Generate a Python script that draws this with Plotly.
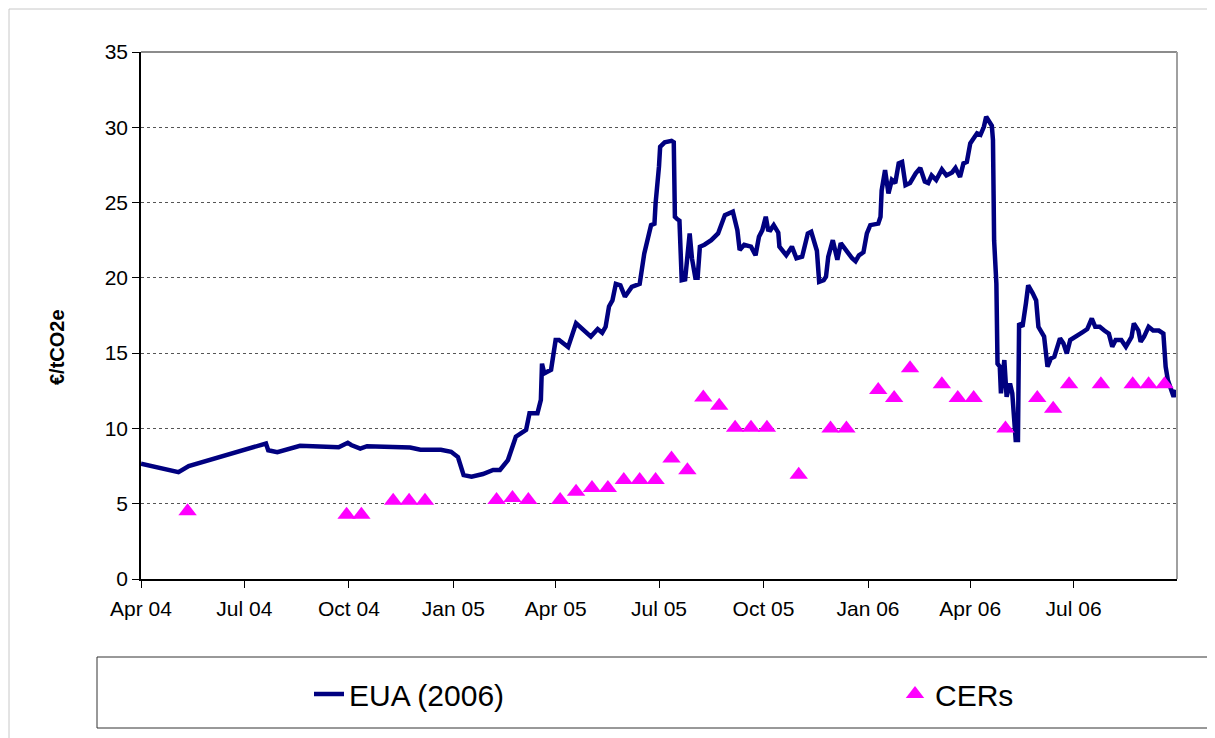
import plotly.graph_objects as go

# ---------------- data ----------------
eua_dates = [
    "2004-04-01", "2004-05-04", "2004-05-13", "2004-07-18", "2004-07-20", "2004-07-22",
    "2004-07-30", "2004-08-19", "2004-09-06", "2004-09-22", "2004-09-30", "2004-10-03",
    "2004-10-11", "2004-10-17", "2004-11-24", "2004-12-03", "2004-12-21", "2004-12-30",
    "2005-01-05", "2005-01-10", "2005-01-17", "2005-01-27", "2005-02-05", "2005-02-11",
    "2005-02-18", "2005-02-25", "2005-03-06", "2005-03-09", "2005-03-16", "2005-03-19",
    "2005-03-20", "2005-03-22", "2005-03-28", "2005-04-01", "2005-04-04", "2005-04-12",
    "2005-04-19", "2005-05-02", "2005-05-08", "2005-05-12", "2005-05-15", "2005-05-18",
    "2005-05-21", "2005-05-24", "2005-05-28", "2005-06-01", "2005-06-07", "2005-06-14",
    "2005-06-18", "2005-06-21", "2005-06-24", "2005-06-27", "2005-06-28", "2005-07-01",
    "2005-07-02", "2005-07-06", "2005-07-12", "2005-07-14", "2005-07-15", "2005-07-17",
    "2005-07-19", "2005-07-21", "2005-07-24", "2005-07-28", "2005-07-30", "2005-08-02",
    "2005-08-04", "2005-08-06", "2005-08-10", "2005-08-16", "2005-08-22", "2005-08-28",
    "2005-09-04", "2005-09-08", "2005-09-10", "2005-09-14", "2005-09-20", "2005-09-24",
    "2005-09-27", "2005-09-30", "2005-10-03", "2005-10-05", "2005-10-07", "2005-10-10",
    "2005-10-14", "2005-10-15", "2005-10-21", "2005-10-26", "2005-10-30", "2005-11-04",
    "2005-11-09", "2005-11-12", "2005-11-15", "2005-11-17", "2005-11-19", "2005-11-23",
    "2005-11-25", "2005-11-27", "2005-12-01", "2005-12-05", "2005-12-08", "2005-12-12",
    "2005-12-18", "2005-12-21", "2005-12-24", "2005-12-28", "2005-12-31", "2006-01-03",
    "2006-01-10", "2006-01-12", "2006-01-13", "2006-01-16", "2006-01-19", "2006-01-22",
    "2006-01-25", "2006-01-28", "2006-01-31", "2006-02-03", "2006-02-07", "2006-02-12",
    "2006-02-16", "2006-02-20", "2006-02-23", "2006-02-26", "2006-03-02", "2006-03-07",
    "2006-03-11", "2006-03-16", "2006-03-19", "2006-03-23", "2006-03-26", "2006-03-29",
    "2006-04-01", "2006-04-03", "2006-04-07", "2006-04-10", "2006-04-13", "2006-04-15",
    "2006-04-17", "2006-04-20", "2006-04-21", "2006-04-22", "2006-04-24", "2006-04-25",
    "2006-04-27", "2006-04-28", "2006-05-01", "2006-05-03", "2006-05-06", "2006-05-08",
    "2006-05-11", "2006-05-13", "2006-05-14", "2006-05-17", "2006-05-20", "2006-05-22",
    "2006-05-26", "2006-05-29", "2006-05-31", "2006-06-03", "2006-06-05", "2006-06-08",
    "2006-06-11", "2006-06-14", "2006-06-19", "2006-06-22", "2006-06-25", "2006-06-28",
    "2006-07-03", "2006-07-09", "2006-07-13", "2006-07-17", "2006-07-20", "2006-07-24",
    "2006-07-28", "2006-08-01", "2006-08-04", "2006-08-07", "2006-08-12", "2006-08-16",
    "2006-08-21", "2006-08-23", "2006-08-27", "2006-08-29", "2006-09-01", "2006-09-05",
    "2006-09-09", "2006-09-14", "2006-09-18", "2006-09-20", "2006-09-22", "2006-09-25",
    "2006-09-27", "2006-09-29",
]
eua_values = [
    7.65, 7.1, 7.5, 8.95, 9.0, 8.55,
    8.42, 8.85, 8.77, 8.75, 9.05, 8.9,
    8.66, 8.82, 8.73, 8.58, 8.58, 8.45,
    8.1, 6.9, 6.8, 6.97, 7.24, 7.24,
    7.9, 9.45, 9.9, 11.0, 11.0, 11.9,
    14.3, 13.66, 13.9, 15.87, 15.87, 15.4,
    16.98, 16.1, 16.6, 16.35, 16.75, 18.1,
    18.5, 19.6, 19.5, 18.75, 19.4, 19.6,
    21.6, 22.5, 23.5, 23.6, 24.95, 27.4,
    28.7, 29.0, 29.1, 29.0, 24.06, 23.9,
    23.8, 19.85, 19.9, 22.95, 21.3, 20.0,
    20.0, 22.07, 22.2, 22.5, 22.95, 24.17,
    24.4, 23.17, 21.85, 22.2, 22.07, 21.5,
    22.73, 23.17, 24.06, 23.2, 23.17, 23.5,
    23.0, 22.07, 21.5, 22.07, 21.3, 21.4,
    22.95, 23.06, 22.3, 21.8, 19.74, 19.85,
    20.07, 21.4, 22.5, 21.2, 22.3, 21.85,
    21.3, 21.1, 21.5, 21.7, 22.95, 23.5,
    23.6, 24.06, 25.8, 27.16, 25.6, 26.5,
    26.3, 27.6, 27.7, 26.16, 26.3, 26.94,
    27.3, 26.4, 26.3, 26.8, 26.5, 27.2,
    26.8, 27.0, 27.3, 26.7, 27.6, 27.7,
    28.93, 29.15, 29.6, 29.5, 30.03, 30.7,
    30.4, 30.1, 29.15, 22.5, 19.6, 14.3,
    14.1, 12.33, 14.54, 12.1, 12.99, 12.33,
    9.23, 9.23, 16.98, 16.75, 18.3, 19.5,
    18.97, 18.5, 16.75, 16.3, 16.1, 14.1,
    14.65, 14.76, 15.98, 15.65, 14.98, 15.87,
    16.08, 16.4, 16.6, 17.3, 16.75, 16.75,
    16.5, 16.3, 15.43, 15.87, 15.87, 15.43,
    16.08, 16.98, 16.5, 15.76, 16.1, 16.75,
    16.5, 16.5, 16.3, 14.1, 13.2, 12.56,
    12.1, 12.56,
]

cer_dates = [
    "2004-05-12", "2004-09-29", "2004-10-12", "2004-11-09", "2004-11-23", "2004-12-07",
    "2005-02-08", "2005-02-22", "2005-03-08", "2005-04-05", "2005-04-19", "2005-05-03",
    "2005-05-17", "2005-05-31", "2005-06-14", "2005-06-28", "2005-07-12", "2005-07-26",
    "2005-08-09", "2005-08-23", "2005-09-06", "2005-09-20", "2005-10-04", "2005-11-01",
    "2005-11-29", "2005-12-13", "2006-01-10", "2006-01-24", "2006-02-07", "2006-03-07",
    "2006-03-21", "2006-04-04", "2006-05-02", "2006-05-30", "2006-06-13", "2006-06-27",
    "2006-07-25", "2006-08-22", "2006-09-05", "2006-09-19",
]
cer_values = [
    4.5, 4.27, 4.27, 5.2, 5.2, 5.2,
    5.24, 5.38, 5.24, 5.24, 5.8, 6.04,
    6.04, 6.57, 6.57, 6.57, 8.0, 7.23,
    12.06, 11.5, 10.04, 10.04, 10.04, 6.93,
    10.0, 10.0, 12.55, 12.02, 14.0, 12.93,
    12.02, 12.02, 10.0, 12.02, 11.3, 12.93,
    12.93, 12.93, 12.93, 12.93,
]

x_tickvals = ["2004-04-01", "2004-07-01", "2004-10-01", "2005-01-01", "2005-04-01",
              "2005-07-01", "2005-10-01", "2006-01-01", "2006-04-01", "2006-07-01"]
x_ticktext = ["Apr 04", "Jul 04", "Oct 04", "Jan 05", "Apr 05",
              "Jul 05", "Oct 05", "Jan 06", "Apr 06", "Jul 06"]
y_tickvals = [0, 5, 10, 15, 20, 25, 30, 35]

FONT = "Arial, Liberation Sans, sans-serif"

# page body has an 8px margin: work in screen px and shift by it
OFF = 8
W, H = 1215 - OFF, 738 - OFF
L, R, T, B = 141 - OFF, 1177 - OFF, 52 - OFF, 579 - OFF
pw, ph = R - L, B - T


def px(x):
    return (x - OFF - L) / pw


def py(y):
    return (B - (y - OFF)) / ph


fig = go.Figure()
fig.add_trace(go.Scatter(
    x=eua_dates, y=eua_values, mode="lines", name="EUA (2006)",
    line=dict(color="#000080", width=4.5), legendwidth=541,
))
fig.add_trace(go.Scatter(
    x=cer_dates, y=cer_values, mode="markers", name="CERs",
    marker=dict(symbol="triangle-up", color="#FF00FF", size=16, line=dict(width=0)),
    legendwidth=90,
))

shapes = [
    dict(type="rect", xref="paper", yref="paper", x0=px(9), x1=px(1212), y0=py(740), y1=py(9),
         line=dict(color="#c8c8c8", width=1), layer="below"),
    dict(type="rect", xref="paper", yref="paper", x0=px(97), x1=px(1212), y0=py(728), y1=py(657),
         line=dict(color="#333333", width=1)),
    dict(type="line", xref="paper", yref="paper", x0=0, x1=1, y0=1, y1=1,
         line=dict(color="#8c8c8c", width=2)),
    dict(type="line", xref="paper", yref="paper", x0=1, x1=1, y0=0, y1=1,
         line=dict(color="#a0a0a0", width=2)),
]

fig.update_layout(
    width=W, height=H,
    margin=dict(l=L, r=W - R, t=T, b=H - B, autoexpand=False),
    paper_bgcolor="white", plot_bgcolor="white",
    font=dict(family=FONT, size=21, color="black"),
    showlegend=True,
    legend=dict(
        orientation="h", x=px(309), xanchor="left", y=py(694), yanchor="middle",
        font=dict(family=FONT, size=30, color="black"),
        bgcolor="rgba(0,0,0,0)", borderwidth=0,
    ),
    shapes=shapes,
    annotations=[
        dict(text="<b>€/tCO2e</b>", xref="paper", yref="paper", x=px(57), y=py(347),
             textangle=-90, showarrow=False, font=dict(family=FONT, size=20, color="black"),
             xanchor="center", yanchor="middle"),
    ],
)

fig.update_xaxes(
    type="date", range=["2004-04-01", "2006-09-30"],
    tickvals=x_tickvals, ticktext=x_ticktext,
    ticks="outside", ticklen=7, tickcolor="black", tickwidth=1,
    showline=True, linecolor="black", linewidth=1.5,
    showgrid=False, zeroline=False,
    tickfont=dict(family=FONT, size=21, color="black"),
    ticklabelstandoff=3,
)
fig.update_yaxes(
    range=[0, 35], tickvals=y_tickvals,
    ticks="outside", ticklen=7, tickcolor="black", tickwidth=1,
    showline=True, linecolor="black", linewidth=1.5,
    showgrid=True, gridcolor="#555555", griddash="3px,3px", gridwidth=1,
    zeroline=False,
    tickfont=dict(family=FONT, size=21, color="black"),
)

fig.write_html("out.html")
